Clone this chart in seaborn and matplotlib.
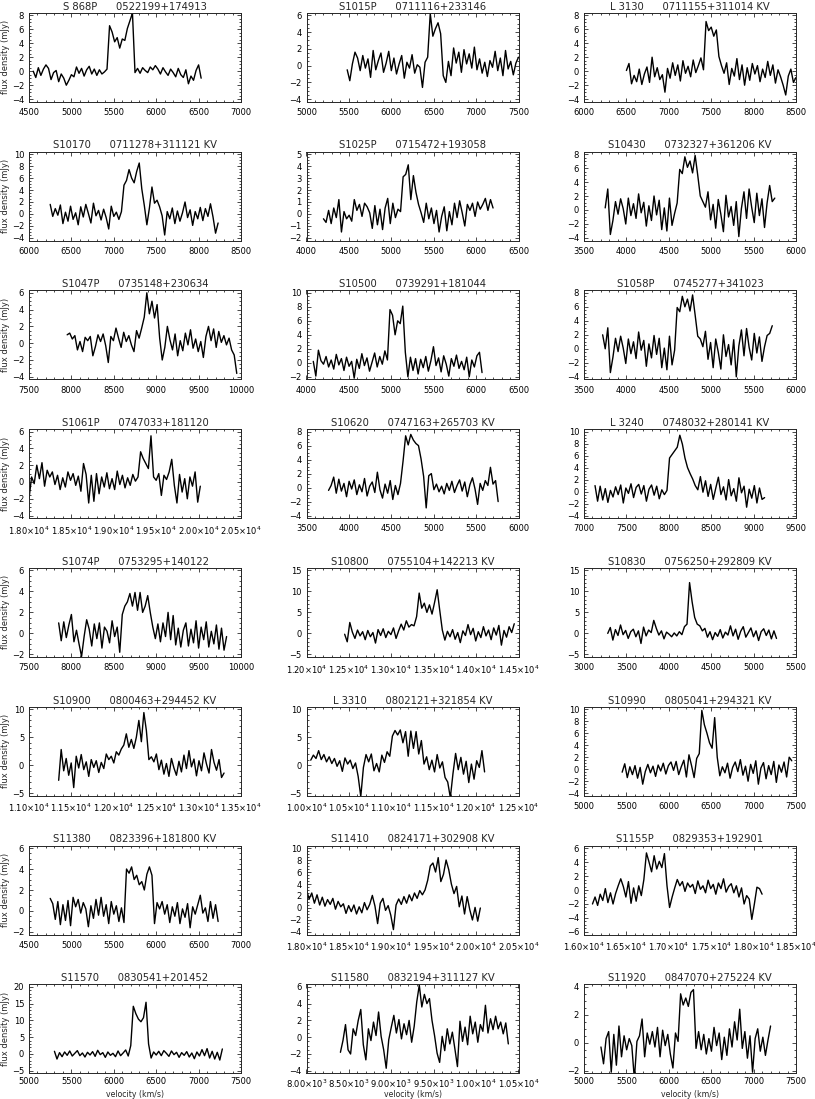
import numpy as np
import pandas as pd
import matplotlib
matplotlib.use("Agg")
import matplotlib.pyplot as plt
from matplotlib.ticker import MultipleLocator, FuncFormatter, AutoMinorLocator
import seaborn as sns

# ---------------- data ----------------
names = ["S 868P", "S1015P", "L 3130",
         "S10170", "S1025P", "S10430",
         "S1047P", "S10500", "S1058P",
         "S1061P", "S10620", "L 3240",
         "S1074P", "S10800", "S10830",
         "S10900", "L 3310", "S10990",
         "S11380", "S11410", "S1155P",
         "S11570", "S11580", "S11920"]
coords = ["0522199+174913", "0711116+233146", "0711155+311014 KV",
          "0711278+311121 KV", "0715472+193058", "0732327+361206 KV",
          "0735148+230634", "0739291+181044", "0745277+341023",
          "0747033+181120", "0747163+265703 KV", "0748032+280141 KV",
          "0753295+140122", "0755104+142213 KV", "0756250+292809 KV",
          "0800463+294452 KV", "0802121+321854 KV", "0805041+294321 KV",
          "0823396+181800 KV", "0824171+302908 KV", "0829353+192901",
          "0830541+201452", "0832194+311127 KV", "0847070+275224 KV"]
# velocity span of each spectrum (km/s)
v_first = [4550, 5480, 6500, 6250, 4200, 3750, 7950, 4080, 3720, 18000, 3760, 7130,
           7850, 12450, 3280, 11350, 10050, 5450, 4750, 18000, 16100, 5300, 8400, 5200]
v_last = [6530, 7500, 8500, 8230, 6200, 5750, 9950, 6070, 5720, 20020, 5760, 9130,
          9830, 14450, 5270, 13300, 12100, 7450, 6730, 20050, 18100, 7280, 10380, 7200]
# x axis lower limit (each axis spans 2500 km/s, ticks every 500)
x_lo = [4500, 5000, 6000, 6000, 4000, 3500, 7500, 4000, 3500, 18000, 3500, 7000,
        7500, 12000, 3000, 11000, 10000, 5000, 4500, 18000, 16000, 5000, 8000, 5000]
x_sci = [False, False, False, False, False, False, False, False, False, True, False, False,
         False, True, False, True, True, False, False, True, True, False, True, False]
# y ticks: lowest, highest, step
y_tick_lo = [-4, -4, -4, -4, -2, -4, -4, -2, -4, -4, -4, -4, -2, -5, -5, -5, -5, -4, -2, -4, -6, -5, -4, -2]
y_tick_hi = [8, 6, 8, 10, 5, 8, 6, 10, 8, 6, 8, 10, 6, 15, 15, 10, 10, 10, 6, 10, 6, 20, 6, 4]
y_tick_step = [2, 2, 2, 2, 1, 2, 2, 2, 2, 2, 2, 2, 2, 5, 5, 5, 5, 2, 2, 2, 2, 5, 2, 2]

flux_01 = [0.0, -0.9, 0.5, -0.6, 0.3, 0.9, 0.4, -1.2, -0.2, 0.1, -1.5, -0.4, -1.0, -2.0, -1.3, -0.5, -0.8, 0.6, -0.3, 0.4,
           -0.7, 0.2, 0.7, -0.4, 0.3, -0.6, 0.2, -0.4, -0.1, 0.3, 6.5, 5.6, 4.2, 4.8, 3.3, 4.6, 4.4, 6.1, 7.2, 8.3,
           -0.2, 0.4, -0.3, 0.5, 0.1, -0.2, 0.6, 0.2, 0.8, 0.3, -0.4, 0.5, -0.1, -0.6, 0.3, -0.2, -0.8, 0.4, -0.5, -0.9,
           0.2, -1.8, -0.7, -1.3, 0.1, 0.9, -1.0]
flux_02 = [-0.5, -1.8, 0.2, 1.6, 0.9, -0.6, 1.2, -0.3, 0.8, -1.4, 1.8, -0.5, 0.6, 1.5, -0.8, 0.3, 1.7, -0.6, 0.9, -1.0,
           0.2, 1.2, -1.5, 0.4, -0.3, 1.3, -0.9, 0.1, -0.2, -2.6, 0.4, 1.0, 6.2, 3.5, 4.4, 5.1, 3.8, -1.2, -2.0, 0.5,
           -1.2, 2.1, 0.3, 1.6, -0.8, 1.9, 0.2, 1.4, -0.3, 2.2, -0.5, 0.8, -0.9, 0.4, -1.3, 0.6, -0.2, 1.7, -0.6, 0.9,
           -1.2, 1.8, -0.4, 0.5, -1.1, 0.3, 1.0]
flux_03 = [0.1, 1.1, -1.8, -0.6, -1.5, 0.3, -1.9, -0.4, 0.6, -1.6, 2.0, -0.8, 0.5, -1.2, -0.5, -3.0, 0.4, -1.0, 1.2, -0.6,
           0.9, -1.4, 1.5, -0.3, 0.7, -0.8, 1.6, -0.2, 0.8, 1.9, 0.2, 7.1, 5.8, 6.3, 5.0, 5.9, 2.1, 0.8, -0.3, 1.2,
           -1.9, 0.4, -0.7, 1.8, -1.2, 0.9, -2.0, 0.5, -1.3, 1.1, -0.4, 0.8, -1.5, 0.3, -0.9, 1.4, -0.6, 0.9, -1.7, 0.2,
           -0.8, -2.0, -3.4, -0.7, 0.3, -1.6, -0.9]
flux_04 = [1.6, -0.4, 0.9, -0.2, 1.5, -1.6, 0.3, -1.2, 1.3, -0.9, 0.2, -1.8, 1.2, -0.5, 1.6, 0.1, -1.5, 1.8, -0.3, 0.6,
           -1.0, 0.8, -0.6, -2.5, 1.3, -0.4, 0.3, -0.9, 0.4, 4.8, 5.6, 7.4, 6.0, 5.2, 7.1, 8.5, 4.2, 1.4, -1.8, 1.0,
           4.5, 1.8, 2.3, 1.2, -0.3, -3.5, 0.4, -0.8, 1.0, -1.6, 0.5, -1.2, 0.2, 2.0, -0.6, 0.7, -1.9, 0.4, -0.8, 1.1,
           -1.1, 0.9, -0.4, 1.7, -0.5, -3.2, -1.5]
flux_05 = [-0.4, -0.7, 0.3, -0.8, 0.5, -0.3, 1.2, -1.5, 0.2, -0.4, -0.1, -0.6, 1.2, 0.3, 0.8, -0.2, 0.9, 0.6, 0.1, -1.2,
           0.7, -0.9, 0.4, -1.3, 0.5, 1.3, -0.8, 0.9, -0.3, 0.4, 0.2, 3.1, 3.3, 4.1, 1.2, 3.2, 1.8, 0.8, 0.1, -0.7,
           0.9, -0.4, 0.5, -0.8, 0.3, -1.5, -0.2, 0.6, -1.4, 0.2, -0.9, 0.9, -0.3, 1.1, 0.1, -1.0, 0.8, 0.3, 0.9, -0.2,
           1.0, 0.4, 0.8, 1.3, 0.3, 1.2, 0.5]
flux_06 = [0.3, 3.0, -3.5, -1.5, 1.2, -0.6, 1.6, 0.2, -2.0, 1.7, -0.8, 0.9, -1.2, 2.3, -0.4, 1.1, -2.3, 0.6, -1.5, 2.0,
           -0.7, 1.4, -2.8, 0.3, -3.0, 1.7, -2.2, -0.5, 1.0, 5.8, 5.2, 7.6, 6.1, 7.0, 5.3, 7.8, 5.0, 2.0, 1.2, 0.4,
           2.6, -1.4, 0.8, -2.6, 1.5, -0.6, -3.1, 2.1, -1.0, 0.5, -2.2, 1.2, -3.8, 0.2, 2.6, -1.2, 3.0, 0.4, -1.8, 2.4,
           -0.8, 1.6, -2.5, 1.0, 3.5, 1.2, 1.7]
flux_07 = [1.0, 1.2, 0.5, 0.9, -0.8, 0.2, -1.0, 0.7, 0.3, 0.8, -1.5, -0.4, 1.0, 0.2, 1.1, -0.3, -2.3, 0.8, 0.3, 1.8,
           0.6, -0.5, 1.3, 0.2, 0.9, -0.2, -1.0, 1.5, 0.6, 1.8, 3.1, 6.0, 3.5, 5.0, 3.0, 4.6, 0.6, -2.0, -0.5, 2.0,
           0.4, -0.8, 1.1, -1.5, 0.3, -0.9, 1.2, -0.2, 1.6, -0.6, 0.5, -1.0, 0.2, -1.7, 0.8, 2.0, 0.3, 1.7, -0.5, 1.4,
           0.1, 0.9, -0.2, 0.6, -0.8, -1.4, -3.6]
flux_08 = [0.2, -1.9, 1.8, 0.3, -0.2, 0.9, -0.6, 0.4, -0.9, 1.2, -0.3, 0.6, -1.1, 0.8, -0.5, 0.2, -2.2, 0.5, -0.8, 1.3,
           -0.4, 0.7, -1.2, 0.1, 1.4, -0.6, 0.9, -0.2, 1.7, 0.4, 7.6, 6.8, 4.0, 6.0, 5.6, 8.1, 1.5, -2.0, 0.8, -1.1,
           0.6, -1.6, 0.5, -0.7, 0.9, -1.2, 0.3, 2.3, -0.4, 0.7, -1.3, 1.0, -0.2, -1.9, 0.6, -0.5, 1.1, -0.8, 0.2, -1.0,
           0.8, -2.0, 0.4, -0.6, 1.0, 1.5, -1.4]
flux_09 = [2.0, 0.0, 3.0, -3.4, -1.2, 1.5, -0.4, 1.8, 0.1, -2.1, 1.4, -0.7, 1.0, -1.4, 2.4, -0.2, 1.2, -2.5, 0.7, -1.3,
           1.9, -0.8, 1.5, -2.7, 0.1, -3.0, 1.8, -2.3, -0.2, 5.9, 5.3, 7.5, 6.0, 7.1, 5.4, 7.7, 4.8, 1.8, 1.4, 0.3,
           2.5, -1.5, 0.9, -2.7, 1.4, -0.5, -2.9, 2.0, -1.1, 0.6, -2.3, 1.3, -4.0, 0.4, 2.7, -1.0, 2.9, 0.2, -1.6, 2.2,
           -0.6, 1.7, -1.8, 0.3, 1.9, 2.2, 3.3]
flux_10 = [-2.0, 0.6, -0.2, 2.0, 0.4, 2.3, -0.5, 1.4, 0.6, 1.2, -0.3, 0.8, -0.9, 0.5, -0.6, 1.2, 0.2, 1.0, -0.4, 0.7,
           -1.1, 2.2, 0.9, -2.5, 0.8, -2.3, 1.0, -1.4, 0.6, -0.6, 1.1, -0.8, 0.4, -0.9, 1.3, -0.3, 0.8, -0.7, 0.5, -0.4,
           0.9, 0.1, 0.6, 3.6, 2.8, 2.2, 1.6, 5.5, 0.6, 0.2, 1.0, -1.6, 0.8, 0.3, 1.2, 2.7, -0.4, -2.5, 0.9, -1.2,
           0.4, -2.0, 0.6, -0.5, 1.2, -2.4, -0.5]
flux_11 = [-0.4, 0.3, 1.5, -0.8, 1.2, -0.5, 0.6, -1.3, 0.9, -0.2, 1.1, -1.0, 0.4, -0.6, 1.3, -1.2, 0.2, 0.8, -0.7, 2.2,
           -0.3, -1.5, 0.5, -0.8, 1.0, -1.7, 0.3, -1.0, 0.6, 3.8, 7.4, 6.1, 7.6, 6.8, 6.3, 6.0, 4.1, 1.6, -2.9, 1.7,
           2.0, -0.3, 0.5, -0.6, 0.2, -0.9, 0.6, -0.4, 0.9, -0.7, 0.3, 1.1, -0.5, 0.8, -1.3, 0.4, 1.4, -0.2, -2.4, 0.6,
           -0.4, 1.0, 0.3, 2.9, 0.5, 1.0, -2.0]
flux_12 = [1.0, -1.6, 0.9, -1.4, 0.5, -1.8, 0.2, -0.9, 0.8, -0.5, 1.1, -1.9, 0.6, -0.3, 1.3, -1.0, 0.7, 1.2, -0.4, 1.0,
           -1.6, 0.4, 1.1, -0.6, 0.9, -1.2, 0.3, -0.5, 0.2, 5.6, 6.2, 6.8, 7.4, 9.4, 7.9, 5.6, 4.0, 3.0, 2.1, 1.0,
           0.3, 2.5, -0.1, 1.8, -0.8, 1.2, -1.3, 0.6, 2.4, -0.5, 0.8, -1.4, 2.0, -0.7, 0.5, -1.6, 2.3, -0.2, 0.9, -2.6,
           0.4, -1.1, 1.0, -1.9, 0.6, -1.3, -1.0]
flux_13 = [1.0, -0.7, 1.1, -0.4, 0.8, 1.8, -0.8, 0.3, -1.0, -2.2, -0.3, 1.3, 0.4, -1.2, 0.9, -0.5, 1.0, -1.4, 0.6, 0.2,
           -0.9, 1.2, -0.3, 0.6, -1.8, 1.8, 2.6, 3.0, 3.8, 2.6, 3.9, 2.2, 3.9, 2.0, 2.6, 3.6, 2.0, 0.6, -0.5, 0.9,
           -0.8, 1.0, -0.3, 2.0, -0.6, 1.7, -1.1, 0.5, -1.3, 0.3, 1.0, -1.2, 0.4, -0.9, 1.2, -1.4, 0.6, -0.6, 1.1, -1.3,
           0.2, -1.0, 0.8, -1.5, 0.5, -1.6, -0.3]
flux_14 = [-0.2, -2.0, 2.6, 0.3, -1.2, 0.8, -0.6, 0.4, -1.5, 0.7, -0.8, 0.2, -2.3, 0.9, -0.5, 1.1, -1.0, 0.5, -0.3, 1.3,
           -1.2, 0.6, 2.2, 0.8, 3.0, 1.5, 2.1, 1.8, 4.0, 9.6, 6.0, 7.2, 5.0, 6.8, 4.6, 7.4, 10.4, 5.5, 0.8, -1.6,
           0.5, -0.8, 0.9, -1.4, 0.2, -2.2, 0.6, -0.5, 2.1, -0.3, 1.2, -1.8, 0.4, -1.0, 1.6, -0.6, 0.8, -1.5, 1.3, -0.4,
           1.9, -2.8, 0.7, -0.9, 1.6, 0.2, 2.3]
flux_15 = [0.0, 1.4, -1.6, 0.9, -0.5, 2.0, -0.3, 0.7, -1.2, 0.4, 1.0, -0.8, 0.6, -2.4, 1.5, -0.6, 0.8, 0.2, 3.1, 1.2,
           -0.4, 0.6, -1.3, 0.3, -0.2, -0.8, 0.1, -0.6, 0.4, -0.3, 1.6, 2.2, 12.1, 7.5, 3.8, 2.2, 1.8, 0.6, 1.2, -0.9,
           0.4, -1.5, 0.2, -0.7, 0.9, -1.1, 0.3, -0.4, 1.8, -0.6, 1.0, -1.4, 0.5, 1.6, -0.9, 0.2, 1.3, -0.8, 0.6, -1.7,
           0.4, 1.1, -0.5, 0.8, -1.3, 0.6, -1.2]
flux_16 = [-2.7, 2.8, -1.0, 1.2, -1.8, 0.4, -4.0, 1.6, -0.5, 1.9, -0.8, 0.6, -2.0, 1.0, -0.4, 0.8, -1.3, 0.5, -0.6, 2.0,
           1.0, 1.6, 0.4, 2.4, 1.8, 2.9, 3.6, 5.6, 3.2, 4.6, 3.0, 5.0, 8.0, 4.2, 9.4, 6.2, 1.0, 1.5, 0.6, 2.0,
           -0.8, 0.9, -1.6, 0.3, -2.0, 1.2, -0.5, -1.8, 0.7, -1.2, 1.8, -0.6, 2.6, -0.3, 1.1, -1.9, 0.8, -1.0, 2.2, 0.2,
           -1.4, 2.8, 0.5, -0.9, 1.0, -2.2, -1.4]
flux_17 = [0.9, 1.8, 1.2, 2.6, 1.0, 1.9, 0.6, 1.5, 0.3, 1.2, -0.2, 0.8, -1.1, 1.3, 0.2, 0.9, -0.6, 0.4, -2.0, -5.6,
           -0.4, 1.9, 0.6, 2.0, -1.0, 0.3, -1.2, 1.8, 0.5, 2.4, 1.6, 5.2, 6.2, 5.4, 6.3, 4.0, 6.0, 1.6, 6.1, 3.0,
           6.0, 2.0, 4.4, 0.2, 1.5, -0.8, 0.9, -1.2, 1.9, -0.5, 0.6, -2.2, -3.0, -5.8, -1.5, 2.1, -0.8, 1.4, -1.6, 0.7,
           -3.1, 0.2, -2.5, 0.8, -0.4, 2.6, -1.2]
flux_18 = [-0.5, 0.9, -1.4, 0.4, -0.9, 0.6, -1.5, 0.3, -2.5, -0.4, 0.8, -0.6, 0.5, -1.2, 0.7, -0.3, 1.0, -0.8, 0.6, 1.2,
           -0.2, 1.3, -0.9, 0.4, 1.5, -1.3, 2.4, 0.6, -1.4, 1.8, 2.6, 9.8, 7.4, 6.0, 4.4, 3.5, 8.6, 2.0, -1.1, 0.4,
           -0.6, 1.0, -1.5, 0.3, 1.2, -0.4, 1.6, -1.0, 0.5, -2.0, 0.8, -0.7, 1.4, -2.5, 0.2, 1.1, -1.6, 0.6, -0.9, 1.3,
           -2.2, 0.7, -0.5, 1.2, -1.3, 2.0, 1.4]
flux_19 = [1.2, 0.7, -0.8, 0.9, -1.3, 0.6, -0.9, 1.0, -1.4, 1.3, 0.4, 1.1, -0.2, 0.8, 0.2, -1.5, 0.5, -0.7, 1.1, -0.4,
           1.3, -0.5, 0.6, -1.2, 0.9, -0.3, 0.5, -1.0, 0.3, -1.1, 4.0, 3.6, 4.2, 3.0, 3.4, 2.5, 2.8, 2.0, 3.5, 4.2,
           3.4, -1.2, 0.8, 0.2, 0.9, -0.3, 0.6, -1.1, 0.4, -0.5, 0.8, -1.2, 0.2, -0.6, 0.7, -1.6, 0.4, -0.3, 0.6, 1.5,
           -0.2, 0.3, -1.0, 0.9, -0.7, 0.6, -1.0]
flux_20 = [3.0, 1.5, 2.5, 0.8, 2.2, 0.5, 1.8, 0.3, 1.4, 0.6, 1.6, -0.2, 1.1, 0.2, 0.7, -0.9, 0.4, -0.6, 0.5, -1.0,
           0.2, -0.8, 0.9, -0.3, 0.6, 2.1, 0.3, -2.6, 0.8, 1.6, -0.4, 0.4, -1.2, -3.6, 0.5, 1.5, 0.6, 1.9, 0.8, 2.2,
           1.2, 2.5, 1.6, 2.9, 2.2, 3.0, 4.6, 7.0, 7.5, 6.0, 8.4, 4.4, 5.6, 8.0, 6.4, 4.0, 2.4, 3.6, 0.2, 2.0,
           -1.0, 1.9, -0.3, -2.0, 0.1, -2.2, 0.0]
flux_21 = [-2.0, -1.0, -2.2, -0.6, -1.5, 0.2, -1.8, -0.4, -2.0, -0.5, 0.6, 1.6, 0.5, -1.0, 1.2, -1.9, 0.3, -1.6, 0.6, -0.8,
           1.5, 5.3, 4.0, 2.6, 4.9, 3.0, 4.1, 3.2, 5.2, 0.6, -2.5, -1.0, 0.3, 1.5, 0.6, 1.2, -0.2, 1.0, 0.4, 0.8,
           -0.5, 1.3, 0.1, 0.6, -0.4, 1.4, 0.2, 0.8, -0.6, 1.0, 0.2, 1.6, -0.3, 0.5, 0.9, -0.4, 0.6, -1.0, 0.3, -2.0,
           -0.8, -1.3, -4.2, -2.0, 0.4, 0.2, -0.6]
flux_22 = [0.8, -1.5, 0.4, -0.8, 0.6, -0.4, 0.9, -0.6, 0.2, 1.0, -0.5, 0.3, -0.9, 0.5, -0.3, 0.7, -0.7, 1.1, -0.2, 0.4,
           -1.0, 0.6, -0.4, 0.2, -0.8, 0.9, -0.5, 0.3, 1.2, -0.6, 2.5, 14.2, 12.0, 10.4, 9.6, 10.8, 15.4, 3.0, -1.2, 0.6,
           -0.3, 0.8, -0.5, 1.0, 0.2, -0.7, 0.9, -0.2, 0.5, -1.0, 0.4, -0.4, 0.7, -0.9, 0.3, -1.4, 0.6, -0.6, 1.3, -0.5,
           1.6, -1.2, 0.8, -1.5, 0.5, -1.8, 1.5]
flux_23 = [-1.8, -0.4, 1.5, -1.5, -2.0, 1.0, 0.2, 2.0, 3.3, -0.9, -2.7, 1.0, -0.4, 1.8, 0.2, 3.0, 0.1, -1.5, -3.7, -0.3,
           1.2, 2.6, 0.5, 2.1, -0.2, 1.6, 0.3, 2.0, -0.6, 1.3, 4.2, 6.2, 3.6, 5.1, 4.0, 4.6, 2.0, 0.2, -1.9, -3.0,
           0.1, -1.6, 1.0, -0.8, 0.6, -1.4, -3.5, 1.9, -0.5, 1.2, -0.9, 2.5, 0.4, 1.8, -0.6, 1.5, 0.7, 3.8, 0.5, 2.2,
           0.9, 2.5, 1.0, 1.8, 0.4, 1.7, -0.8]
flux_24 = [-0.3, -1.5, 0.3, 0.8, -2.1, 0.6, -1.6, 1.2, -1.0, 0.5, -0.5, 0.3, -0.2, -2.6, 0.1, 0.5, 1.7, -1.0, 0.7, -0.1,
           0.8, -0.3, 1.1, -1.0, 0.9, -0.2, 0.6, -0.8, -1.8, 0.7, 0.1, 3.5, 2.7, 3.2, 2.6, 3.6, 3.8, -0.4, 0.8, -0.5,
           0.6, -0.8, 0.3, -0.6, 1.1, -0.2, 0.7, -1.2, 0.4, -0.9, 1.0, -0.3, 1.5, 0.2, 2.4, -0.4, 0.8, -1.1, 0.5, -2.1,
           0.3, 1.0, -0.6, 0.4, -0.9, 0.2, 1.2]

fluxes = [flux_01, flux_02, flux_03, flux_04, flux_05, flux_06, flux_07, flux_08,
          flux_09, flux_10, flux_11, flux_12, flux_13, flux_14, flux_15, flux_16,
          flux_17, flux_18, flux_19, flux_20, flux_21, flux_22, flux_23, flux_24]

# ---------------- style ----------------
sns.set_style("ticks")
plt.rcParams["font.family"] = ["DejaVu Sans"]
plt.rcParams["mathtext.fontset"] = "dejavusans"
plt.rcParams["axes.linewidth"] = 0.8

W, H = 815, 1099
fig = plt.figure(figsize=(W / 100, H / 100), dpi=100)
fig.patch.set_facecolor("white")

col_left = [29, 306.5, 584]
ax_w, ax_h = 212, 89
row_top0, row_pitch = 12.7, 138.8


def sci_label(v, pos):
    if v <= 0:
        return "%d" % v
    e = int(np.floor(np.log10(v) + 1e-9))
    m = v / 10 ** e
    return r"%.2f$\times$10$^{%d}$" % (m, e)


for k in range(24):
    r, c = divmod(k, 3)
    top = row_top0 + row_pitch * r
    ax = fig.add_axes([col_left[c] / W, 1 - (top + ax_h) / H, ax_w / W, ax_h / H])
    y = np.array(fluxes[k])
    df = pd.DataFrame({"velocity": np.linspace(v_first[k], v_last[k], len(y)), "flux": y})
    sns.lineplot(data=df, x="velocity", y="flux", ax=ax, color="black", lw=1.0,
                 estimator=None, sort=False)
    ax.set_xlim(x_lo[k], x_lo[k] + 2500)
    span = y_tick_hi[k] - y_tick_lo[k]
    pad = 0.03 * span
    ax.set_ylim(y_tick_lo[k] - pad, y_tick_hi[k] + pad)
    ax.xaxis.set_major_locator(MultipleLocator(500))
    ax.xaxis.set_minor_locator(AutoMinorLocator(5))
    ax.yaxis.set_major_locator(MultipleLocator(y_tick_step[k]))
    ax.yaxis.set_minor_locator(AutoMinorLocator(5 if y_tick_step[k] == 5 else 4))
    if x_sci[k]:
        ax.xaxis.set_major_formatter(FuncFormatter(sci_label))
    else:
        ax.xaxis.set_major_formatter(FuncFormatter(lambda v, p: "%d" % v))
    ax.tick_params(which="both", direction="in", top=True, right=True,
                   labelsize=6, width=0.5, colors="black")
    ax.tick_params(axis="x", which="major", pad=(3.0 if r == 7 else 4.5))
    ax.tick_params(axis="y", which="major", pad=3.5)
    ax.tick_params(which="major", length=3)
    ax.tick_params(which="minor", length=1.5)
    for s in ax.spines.values():
        s.set_linewidth(0.7)
        s.set_visible(True)
    ax.set_title(f"{names[k]}      {coords[k]}", fontsize=7.2, pad=2.2)
    if r == 7:
        ax.set_xlabel("velocity (km/s)", fontsize=5.6)
        ax.xaxis.set_label_coords(0.5, -0.19)
    else:
        ax.set_xlabel("")
    ax.set_ylabel("flux density (mJy)" if c == 0 else "", fontsize=6, labelpad=1.5)

fig.savefig("out.png", dpi=100, facecolor="white")
